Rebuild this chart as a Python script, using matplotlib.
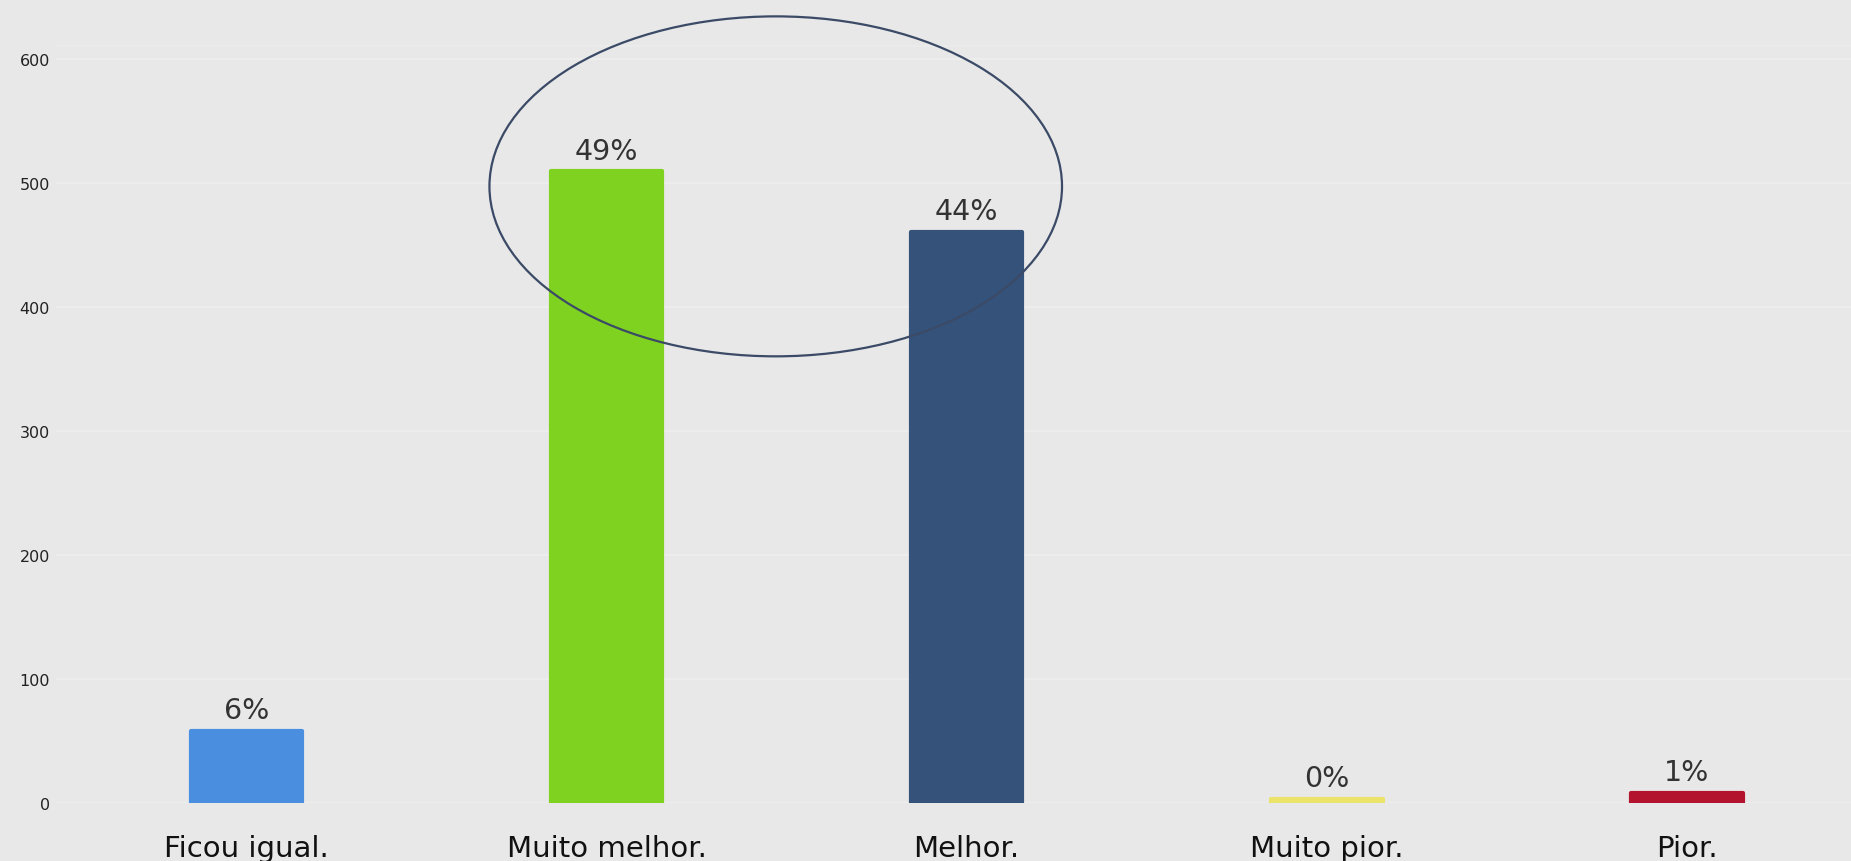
import matplotlib.pyplot as plt
from matplotlib.patches import Ellipse

# Respostas da pesquisa
categorias = ["Ficou igual.", "Muito melhor.", "Melhor.", "Muito pior.", "Pior."]
respostas = [58, 509, 460, 3, 8]
percentuais = ["6%", "49%", "44%", "0%", "1%"]
cores = ["#4a8ee0", "#80d220", "#34527a", "#ece36a", "#b3132c"]
y_ticks = [0, 100, 200, 300, 400, 500, 600]

plt.rcParams['font.family'] = ['DejaVu Sans']

fig = plt.figure(figsize=(18.51, 8.62), dpi=100)
fig.patch.set_facecolor("#e8e8e8")
ax = fig.add_axes([0.030, 0.0673, 0.970, 0.878])
ax.set_facecolor("#e8e8e8")

x = list(range(len(categorias)))
bars = ax.bar(
    x, respostas, width=0.31, color=cores,
    edgecolor=cores, linewidth=3, joinstyle='round', zorder=3
)

for bar, pct in zip(bars, percentuais):
    ax.annotate(
        pct,
        (bar.get_x() + bar.get_width() / 2, bar.get_height()),
        xytext=(0, 5), textcoords='offset points',
        ha='center', va='bottom', fontsize=20.5, color="#333333", zorder=4
    )

ax.set_xlim(-0.53, 4.456)
ax.set_ylim(0, 610)
ax.set_yticks(y_ticks)
ax.set_xticks(x)
ax.set_xticklabels(categorias, fontsize=21, color="#111111")
ax.tick_params(axis='x', length=0, pad=22)
ax.tick_params(axis='y', length=0, pad=4, labelsize=11.5, labelcolor="#222222")

ax.grid(axis='y', color="#eeeeee", linewidth=1.3, zorder=0)
for side in ["right", "bottom", "left"]:
    ax.spines[side].set_visible(False)
ax.spines["top"].set_color("#ececec")
ax.spines["top"].set_linewidth(1.3)

# Destaque em volta das duas maiores barras
centro_x = (x[1] + x[2]) / 2 - 0.03
destaque = Ellipse(
    (centro_x, 497), width=1.59, height=274,
    fill=False, edgecolor="#3b4a66", linewidth=1.6, zorder=5, clip_on=False
)
ax.add_patch(destaque)

fig.savefig("out.png", dpi=100, facecolor=fig.get_facecolor())
